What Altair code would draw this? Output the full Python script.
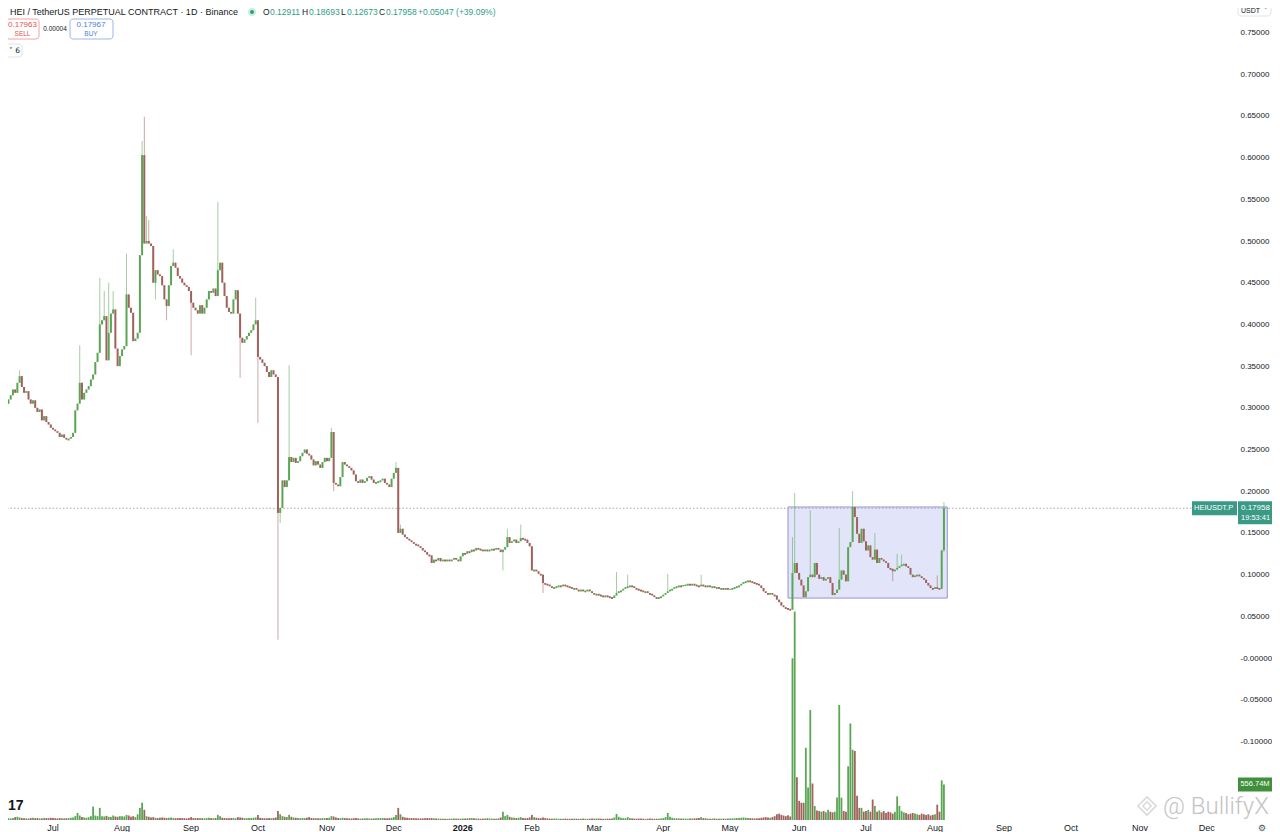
import altair as alt
import pandas as pd

# ---- daily closes, one list per month (USDT) ----
close_jun25 = [0.312, 0.318, 0.305, 0.31, 0.315, 0.322, 0.318, 0.33, 0.338, 0.325, 0.318, 0.32,
               0.31, 0.305, 0.309, 0.3, 0.295, 0.298, 0.285, 0.29, 0.283, 0.28, 0.276]
close_jul25 = [0.274, 0.272, 0.27, 0.265, 0.268, 0.264, 0.262, 0.263, 0.265, 0.27, 0.297, 0.305,
               0.33, 0.31, 0.318, 0.322, 0.326, 0.334, 0.34, 0.355, 0.366, 0.40, 0.405, 0.41,
               0.357, 0.39, 0.413, 0.418, 0.371, 0.35, 0.362]
close_aug25 = [0.37, 0.374, 0.436, 0.42, 0.414, 0.38, 0.383, 0.39, 0.483, 0.603, 0.497, 0.5,
               0.497, 0.494, 0.45, 0.465, 0.46, 0.458, 0.447, 0.43, 0.422, 0.447, 0.47, 0.474,
               0.468, 0.458, 0.455, 0.45, 0.447, 0.445, 0.44]
close_sep25 = [0.426, 0.42, 0.417, 0.413, 0.423, 0.413, 0.42, 0.43, 0.44, 0.438, 0.443, 0.434,
               0.465, 0.474, 0.45, 0.434, 0.42, 0.415, 0.413, 0.43, 0.441, 0.413, 0.384, 0.378,
               0.382, 0.386, 0.39, 0.393, 0.40, 0.405]
close_oct25 = [0.361, 0.358, 0.354, 0.35, 0.343, 0.337, 0.345, 0.34, 0.337, 0.174, 0.18, 0.213,
               0.205, 0.213, 0.241, 0.235, 0.24, 0.234, 0.236, 0.242, 0.246, 0.25, 0.245, 0.243,
               0.238, 0.231, 0.236, 0.232, 0.228, 0.235, 0.24]
close_nov25 = [0.236, 0.24, 0.271, 0.21, 0.208, 0.206, 0.217, 0.235, 0.232, 0.23, 0.228, 0.225,
               0.22, 0.212, 0.21, 0.214, 0.21, 0.212, 0.216, 0.218, 0.214, 0.21, 0.211, 0.212,
               0.213, 0.215, 0.21, 0.208, 0.205, 0.215]
close_dec25 = [0.222, 0.228, 0.15, 0.155, 0.148, 0.145, 0.143, 0.141, 0.139, 0.137, 0.136, 0.134,
               0.132, 0.129, 0.127, 0.124, 0.123, 0.114, 0.118, 0.117, 0.12, 0.116, 0.118, 0.117,
               0.118, 0.116, 0.118, 0.12, 0.118, 0.116, 0.122]
close_jan26 = [0.126, 0.125, 0.128, 0.127, 0.13, 0.129, 0.132, 0.131, 0.13, 0.128, 0.13, 0.129,
               0.13, 0.131, 0.13, 0.132, 0.13, 0.127, 0.13, 0.133, 0.145, 0.138, 0.14, 0.142,
               0.138, 0.14, 0.144, 0.143, 0.142, 0.138, 0.134]
close_feb26 = [0.105, 0.106, 0.104, 0.101, 0.1, 0.09, 0.089, 0.088, 0.086, 0.084, 0.085, 0.086,
               0.087, 0.086, 0.088, 0.087, 0.086, 0.085, 0.083, 0.084, 0.082, 0.081, 0.082, 0.08,
               0.081, 0.082, 0.08, 0.078]
close_mar26 = [0.076, 0.077, 0.076, 0.075, 0.074, 0.075, 0.074, 0.073, 0.072, 0.075, 0.078, 0.08,
               0.081, 0.083, 0.085, 0.086, 0.087, 0.086, 0.084, 0.083, 0.082, 0.081, 0.079, 0.08,
               0.078, 0.077, 0.075, 0.073, 0.072, 0.073, 0.074]
close_apr26 = [0.076, 0.078, 0.08, 0.082, 0.083, 0.085, 0.086, 0.087, 0.086, 0.0875, 0.088, 0.089,
               0.088, 0.089, 0.088, 0.087, 0.086, 0.088, 0.087, 0.086, 0.087, 0.085, 0.086, 0.084,
               0.085, 0.083, 0.084, 0.083, 0.084, 0.083]
close_may26 = [0.083, 0.084, 0.085, 0.086, 0.087, 0.089, 0.091, 0.092, 0.093, 0.092, 0.091, 0.09,
               0.089, 0.087, 0.084, 0.08, 0.078, 0.077, 0.078, 0.076, 0.075, 0.07, 0.067, 0.063,
               0.061, 0.06, 0.059, 0.058, 0.102, 0.114, 0.102]
close_jun26 = [0.094, 0.087, 0.073, 0.08, 0.097, 0.1, 0.097, 0.114, 0.1, 0.095, 0.097, 0.093,
               0.095, 0.097, 0.09, 0.0755, 0.078, 0.082, 0.094, 0.105, 0.1, 0.092, 0.133, 0.139,
               0.181, 0.169, 0.149, 0.138, 0.155, 0.14]
close_jul26 = [0.129, 0.135, 0.121, 0.118, 0.13, 0.114, 0.12, 0.118, 0.116, 0.114, 0.108, 0.107,
               0.104, 0.106, 0.108, 0.11, 0.112, 0.113, 0.11, 0.108, 0.1, 0.097, 0.099, 0.1,
               0.098, 0.096, 0.094, 0.09, 0.087, 0.084, 0.083]
close_aug26 = [0.085, 0.084, 0.083, 0.12911, 0.17958]

# ---- daily volume, millions ----
vol_jun25 = [30, 35, 40, 28, 25, 30, 45, 50, 40, 30, 28, 25, 22, 30, 35, 28, 30, 26, 24, 32, 30, 28, 35]
vol_jul25 = [30, 28, 25, 30, 26, 24, 28, 30, 35, 40, 60, 110, 70, 45, 40, 35, 45, 60, 210, 70,
             60, 190, 60, 55, 65, 50, 45, 70, 55, 50, 60]
vol_aug25 = [60, 55, 80, 70, 50, 60, 45, 90, 190, 270, 160, 60, 50, 40, 45, 35, 30, 35, 40, 35,
             30, 35, 40, 30, 28, 30, 32, 30, 28, 26, 30]
vol_sep25 = [45, 30, 28, 30, 32, 28, 26, 30, 35, 30, 28, 30, 80, 60, 35, 30, 28, 26, 30, 32,
             28, 45, 40, 35, 30, 28, 30, 32, 35, 40]
vol_oct25 = [80, 35, 30, 28, 26, 30, 28, 32, 40, 140, 90, 60, 50, 45, 80, 50, 40, 35, 30, 28,
             32, 30, 35, 45, 30, 28, 30, 26, 25, 30, 28]
vol_nov25 = [30, 35, 60, 55, 40, 30, 28, 35, 30, 26, 25, 24, 28, 30, 25, 22, 24, 26, 28, 25,
             22, 24, 26, 28, 30, 32, 28, 26, 30, 35]
vol_dec25 = [45, 80, 190, 90, 50, 40, 35, 30, 30, 28, 26, 25, 24, 26, 28, 30, 28, 30, 26, 24,
             22, 20, 22, 20, 18, 20, 22, 24, 22, 20, 22]
vol_jan26 = [24, 22, 26, 28, 30, 26, 24, 22, 20, 22, 24, 26, 24, 22, 20, 22, 24, 40, 130, 60,
             80, 50, 40, 35, 30, 35, 45, 30, 28, 30, 40]
vol_feb26 = [80, 45, 35, 30, 28, 40, 30, 25, 22, 20, 22, 24, 20, 18, 20, 22, 20, 18, 20, 22,
             20, 18, 20, 22, 20, 18, 20, 22]
vol_mar26 = [20, 22, 24, 20, 18, 20, 22, 20, 24, 40, 95, 50, 35, 30, 28, 45, 30, 25, 22, 20,
             22, 24, 20, 18, 20, 22, 20, 18, 20, 22, 24]
vol_apr26 = [30, 45, 110, 50, 35, 28, 26, 24, 22, 24, 22, 20, 22, 24, 26, 28, 30, 45, 30, 26,
             22, 20, 22, 24, 20, 18, 20, 22, 20, 22]
vol_may26 = [24, 26, 28, 30, 32, 35, 40, 35, 30, 28, 26, 24, 26, 28, 35, 40, 45, 40, 35, 45,
             60, 90, 100, 80, 70, 60, 75, 55, 2530, 3260, 670]
vol_jun26 = [300, 270, 270, 1130, 510, 1720, 570, 220, 150, 140, 130, 140, 120, 160, 130, 120,
             130, 350, 1800, 350, 140, 130, 840, 1510, 1100, 1080, 380, 190, 190, 130]
vol_jul26 = [140, 160, 130, 320, 220, 130, 150, 120, 140, 110, 130, 120, 100, 130, 370, 220,
             140, 120, 110, 90, 100, 110, 100, 90, 80, 100, 90, 80, 90, 70, 80]
vol_aug26 = [90, 240, 130, 620, 556.74]

# notable wicks
wick_high = {
    "2025-06-16": 0.345, "2025-07-13": 0.375, "2025-07-22": 0.456, "2025-07-24": 0.44,
    "2025-07-26": 0.45, "2025-07-28": 0.44, "2025-08-03": 0.485, "2025-08-10": 0.62,
    "2025-08-11": 0.649, "2025-08-12": 0.53, "2025-08-13": 0.525, "2025-08-24": 0.49,
    "2025-09-13": 0.547, "2025-09-30": 0.432, "2025-10-15": 0.351, "2025-11-03": 0.276,
    "2025-12-02": 0.235, "2025-12-04": 0.16, "2026-01-21": 0.155, "2026-01-27": 0.16,
    "2026-03-11": 0.103, "2026-03-16": 0.1, "2026-04-03": 0.101, "2026-04-18": 0.1,
    "2026-05-29": 0.145, "2026-05-30": 0.198, "2026-06-06": 0.177, "2026-06-19": 0.156,
    "2026-06-25": 0.2, "2026-07-05": 0.15, "2026-07-15": 0.125, "2026-07-17": 0.124,
    "2026-08-02": 0.099, "2026-08-05": 0.18693,
}
wick_low = {
    "2025-08-16": 0.43, "2025-08-21": 0.405, "2025-09-01": 0.363, "2025-09-23": 0.336,
    "2025-10-01": 0.282, "2025-10-10": 0.022, "2025-10-11": 0.162, "2025-11-04": 0.2,
    "2026-01-19": 0.105, "2026-02-06": 0.078, "2026-07-13": 0.092, "2026-08-05": 0.12673,
}
first_open = 0.305

months = [
    ("2025-06-08", close_jun25, vol_jun25), ("2025-07-01", close_jul25, vol_jul25),
    ("2025-08-01", close_aug25, vol_aug25), ("2025-09-01", close_sep25, vol_sep25),
    ("2025-10-01", close_oct25, vol_oct25), ("2025-11-01", close_nov25, vol_nov25),
    ("2025-12-01", close_dec25, vol_dec25), ("2026-01-01", close_jan26, vol_jan26),
    ("2026-02-01", close_feb26, vol_feb26), ("2026-03-01", close_mar26, vol_mar26),
    ("2026-04-01", close_apr26, vol_apr26), ("2026-05-01", close_may26, vol_may26),
    ("2026-06-01", close_jun26, vol_jun26), ("2026-07-01", close_jul26, vol_jul26),
    ("2026-08-01", close_aug26, vol_aug26),
]

month_ticks = ["2025-07-01", "2025-08-01", "2025-09-01", "2025-10-01", "2025-11-01", "2025-12-01",
               "2026-01-01", "2026-02-01", "2026-03-01", "2026-04-01", "2026-05-01", "2026-06-01",
               "2026-07-01", "2026-08-01", "2026-09-01", "2026-10-01", "2026-11-01", "2026-12-01"]
month_labels = ["Jul", "Aug", "Sep", "Oct", "Nov", "Dec", "2026", "Feb", "Mar", "Apr", "May", "Jun",
                "Jul", "Aug", "Sep", "Oct", "Nov", "Dec"]
price_ticks = [-0.1, -0.05, 0.0, 0.05, 0.1, 0.15, 0.2, 0.25, 0.3, 0.35, 0.4, 0.45, 0.5, 0.55,
               0.6, 0.65, 0.7, 0.75]

last_close = 0.17958
last_volume = 556.74
box_dates = ["2026-05-27", "2026-08-06T12:00:00Z"]
box_prices = [0.0719, 0.1811]

# ---- build the table ----
rows = []
for start, closes, vols in months:
    for day, c, v in zip(pd.date_range(start, periods=len(closes), freq="D"), closes, vols):
        rows.append({"date": day.strftime("%Y-%m-%d"), "close": c, "volume": v})
df = pd.DataFrame(rows)
df["open"] = df["close"].shift(1).fillna(first_open)
df["high"] = df[["open", "close"]].max(axis=1)
df["low"] = df[["open", "close"]].min(axis=1)
for d, h in wick_high.items():
    df.loc[df["date"] == d, "high"] = h
for d, lo in wick_low.items():
    df.loc[df["date"] == d, "low"] = lo
df["dir"] = ["up" if c >= o else "down" for o, c in zip(df["open"], df["close"])]

W, H = 1229, 812
FONT = "Liberation Sans"
x_scale = alt.Scale(domain=[alt.DateTime(year=2025, month=6, date=10, hours=19, utc=True),
                            alt.DateTime(year=2026, month=12, date=14, hours=14, utc=True)],
                    padding=0)
price_scale = alt.Scale(domain=[-0.1942, 0.7794], nice=False, zero=False, padding=0)
vol_scale = alt.Scale(domain=[0, 12700], nice=False, zero=True, padding=0)
price_axis = alt.Axis(
    orient="right", values=price_ticks, grid=False, domain=False, ticks=False,
    labelExpr="abs(datum.value) < 1e-9 ? '-0.00000' : replace(format(datum.value, '.5f'), '\u2212', '-')",
    labelFont=FONT, labelFontSize=8, labelColor="#131722", labelPadding=3,
    labelOverlap=False, labelFlush=False, title=None,
)
X = alt.X("date:T", scale=x_scale, axis=None)

candle_colors = alt.Scale(domain=["up", "down"], range=["#35a08b", "#e3524e"])
vol_colors = alt.Scale(domain=["up", "down"], range=["#5aa654", "#a0625c"])

base = alt.Chart(df)

wicks = base.mark_rule(strokeWidth=1, opacity=0.55, clip=True).encode(
    x=X,
    y=alt.Y("low:Q", scale=price_scale, axis=price_axis),
    y2="high:Q",
    color=alt.Color("dir:N", scale=candle_colors, legend=None),
)

bodies = base.transform_calculate(
    top="max(datum.open, datum.close)",
    bot="min(datum.open, datum.close) - (abs(datum.open - datum.close) < 0.0012 ? 0.0012 : 0)",
).mark_bar(size=2, clip=True).encode(
    x=X,
    y=alt.Y("bot:Q", scale=price_scale, axis=price_axis),
    y2="top:Q",
    color=alt.Color("dir:N", scale=candle_colors, legend=None),
)

one = pd.DataFrame({"k": [0]})

highlight = alt.Chart(pd.DataFrame({"d0": [box_dates[0]], "d1": [box_dates[1]],
                                    "p0": [box_prices[0]], "p1": [box_prices[1]]})).mark_rect(
    fill="#e2e5f9", stroke="#9a90cf", strokeWidth=1
).encode(
    x=alt.X("d0:T", scale=x_scale, axis=None), x2="d1:T",
    y=alt.Y("p0:Q", scale=price_scale, axis=price_axis), y2="p1:Q",
)

last_line = alt.Chart(one).mark_rule(strokeDash=[1.5, 2], color="#a3a8b4", strokeWidth=1).encode(
    y=alt.YDatum(last_close, scale=price_scale, axis=price_axis)
)

tag_sym = alt.Chart(one).mark_rect(fill="#3b9a86", yOffset=-7, y2Offset=7).encode(
    x=alt.value(1184), x2=alt.value(1229),
    y=alt.YDatum(last_close, scale=price_scale, axis=price_axis), y2=alt.Y2Datum(last_close),
)
tag_price = alt.Chart(one).mark_rect(fill="#3b9a86", yOffset=-7, y2Offset=16).encode(
    x=alt.value(1230), x2=alt.value(1264),
    y=alt.YDatum(last_close, scale=price_scale, axis=price_axis), y2=alt.Y2Datum(last_close),
)


def price_text(text, x, dy, size=8, color="white"):
    return alt.Chart(pd.DataFrame({"t": [text]})).mark_text(
        align="left", baseline="middle", dy=dy, fontSize=size, color=color, font=FONT
    ).encode(x=alt.value(x), y=alt.YDatum(last_close, scale=price_scale, axis=price_axis), text="t:N")


price_layer = alt.layer(
    highlight, last_line, wicks, bodies, tag_sym, tag_price,
    price_text("HEIUSDT.P", 1186, 0, 7.5),
    price_text(f"{last_close:.5f}", 1233, 0, 8),
    price_text("19:53:41", 1233, 10, 7.5),
)

vol_bars = base.mark_bar(size=1.8, clip=True).encode(
    x=X,
    y=alt.Y("volume:Q", scale=vol_scale, axis=None),
    color=alt.Color("dir:N", scale=vol_colors, legend=None),
)
vol_tag = alt.Chart(one).mark_rect(fill="#3f8f3c", yOffset=-7, y2Offset=7).encode(
    x=alt.value(1230), x2=alt.value(1264),
    y=alt.YDatum(last_volume, scale=vol_scale, axis=None), y2=alt.Y2Datum(last_volume),
)
vol_tag_text = alt.Chart(pd.DataFrame({"t": [f"{last_volume:.2f}M"]})).mark_text(
    align="center", baseline="middle", fontSize=7.5, color="white", font=FONT
).encode(x=alt.value(1247), y=alt.YDatum(last_volume, scale=vol_scale, axis=None), text="t:N")
vol_layer = alt.layer(vol_bars, vol_tag, vol_tag_text)


def note(text, x, y, size=9, color="#131722", weight="normal", align="left", font=FONT):
    return alt.Chart(pd.DataFrame({"t": [text]})).mark_text(
        align=align, baseline="middle", fontSize=size, color=color, fontWeight=weight, font=font
    ).encode(x=alt.value(x), y=alt.value(y), text="t:N")


def frame(x, y, w, h, stroke, fill="white"):
    return alt.Chart(one).mark_rect(fill=fill, stroke=stroke, strokeWidth=1, cornerRadius=3).encode(
        x=alt.value(x), x2=alt.value(x + w), y=alt.value(y), y2=alt.value(y + h)
    )


GREEN_TXT = "#2f9e84"
RED_TXT = "#e0524f"
BLUE_TXT = "#4a7fd6"

header = [
    note("HEI / TetherUS PERPETUAL CONTRACT · 1D · Binance", 2, 4, 9),
    alt.Chart(one).mark_circle(size=70, color="#cdeee2", opacity=1).encode(x=alt.value(244), y=alt.value(4)),
    alt.Chart(one).mark_circle(size=16, color="#2e9e7e", opacity=1).encode(x=alt.value(244), y=alt.value(4)),
    note("O", 255, 4, 8.5), note("0.12911", 262, 4, 8.5, GREEN_TXT),
    note("H", 294, 4, 8.5), note("0.18693", 301, 4, 8.5, GREEN_TXT),
    note("L", 333, 4, 8.5), note("0.12673", 339, 4, 8.5, GREEN_TXT),
    note("C", 371, 4, 8.5), note("0.17958", 378, 4, 8.5, GREEN_TXT),
    note("+0.05047 (+39.09%)", 410, 4, 8.5, GREEN_TXT),
    frame(-2, 11, 33, 20, "#f0a3a1"),
    note("0.17963", 14.5, 17, 8, RED_TXT, align="center"),
    note("SELL", 14.5, 25.5, 6.5, RED_TXT, align="center"),
    note("0.00004", 47, 21, 6.5, align="center"),
    frame(62, 11, 43, 20, "#9db8e6"),
    note("0.17967", 83, 17, 8, BLUE_TXT, align="center"),
    note("BUY", 83, 25.5, 6.5, BLUE_TXT, align="center"),
    frame(-3, 36, 17, 13, "#e0e3eb"),
    note("˅ 6", 1, 42.5, 7.5, font="DejaVu Sans"),
    frame(1230, -6, 33, 14, "#e0e3eb"),
    note("USDT", 1233, 2.5, 7),
    note("˅", 1256, 2.5, 7, "#555", font="DejaVu Sans"),
]

month_df = pd.DataFrame({"date": month_ticks, "label": month_labels,
                         "bold": [m == "2026" for m in month_labels]})
month_base = alt.Chart(month_df).encode(x=alt.X("date:T", scale=x_scale, axis=None),
                                        y=alt.value(820), text="label:N")
months_plain = month_base.transform_filter("!datum.bold").mark_text(
    align="center", baseline="middle", fontSize=9, color="#131722", font=FONT)
months_bold = month_base.transform_filter("datum.bold").mark_text(
    align="center", baseline="middle", fontSize=9, color="#131722", font=FONT, fontWeight="bold")

footer = [
    months_plain, months_bold,
    note("⚙", 1254, 820, 9, "#50535e", align="center", font="DejaVu Sans"),
    note("17", 0, 798, 14, "#131722", weight="bold"),
    alt.Chart(one).mark_point(shape="diamond", filled=False, size=330, color="#c9c9c9", strokeWidth=1.6).encode(
        x=alt.value(1139), y=alt.value(798)),
    alt.Chart(one).mark_point(shape="diamond", filled=False, size=70, color="#c9c9c9", strokeWidth=1.4).encode(
        x=alt.value(1139), y=alt.value(798)),
    note("@ BullifyX", 1155, 799, 24, "#c4c4c4", weight=300, font="Roboto"),
]

# total width 1229 + 35 = 1264, i.e. the page width minus its margins, so nothing gets rescaled
chart = alt.layer(vol_layer, price_layer, *header, *footer).resolve_scale(
    y="independent"
).properties(
    width=W, height=H,
    autosize=alt.AutoSizeParams(type="none"),
    padding={"left": 0, "top": 0, "right": 35, "bottom": 12},
    background="white",
).configure_view(stroke=None)

chart.save("out.html", embed_options={"renderer": "svg", "actions": False})
